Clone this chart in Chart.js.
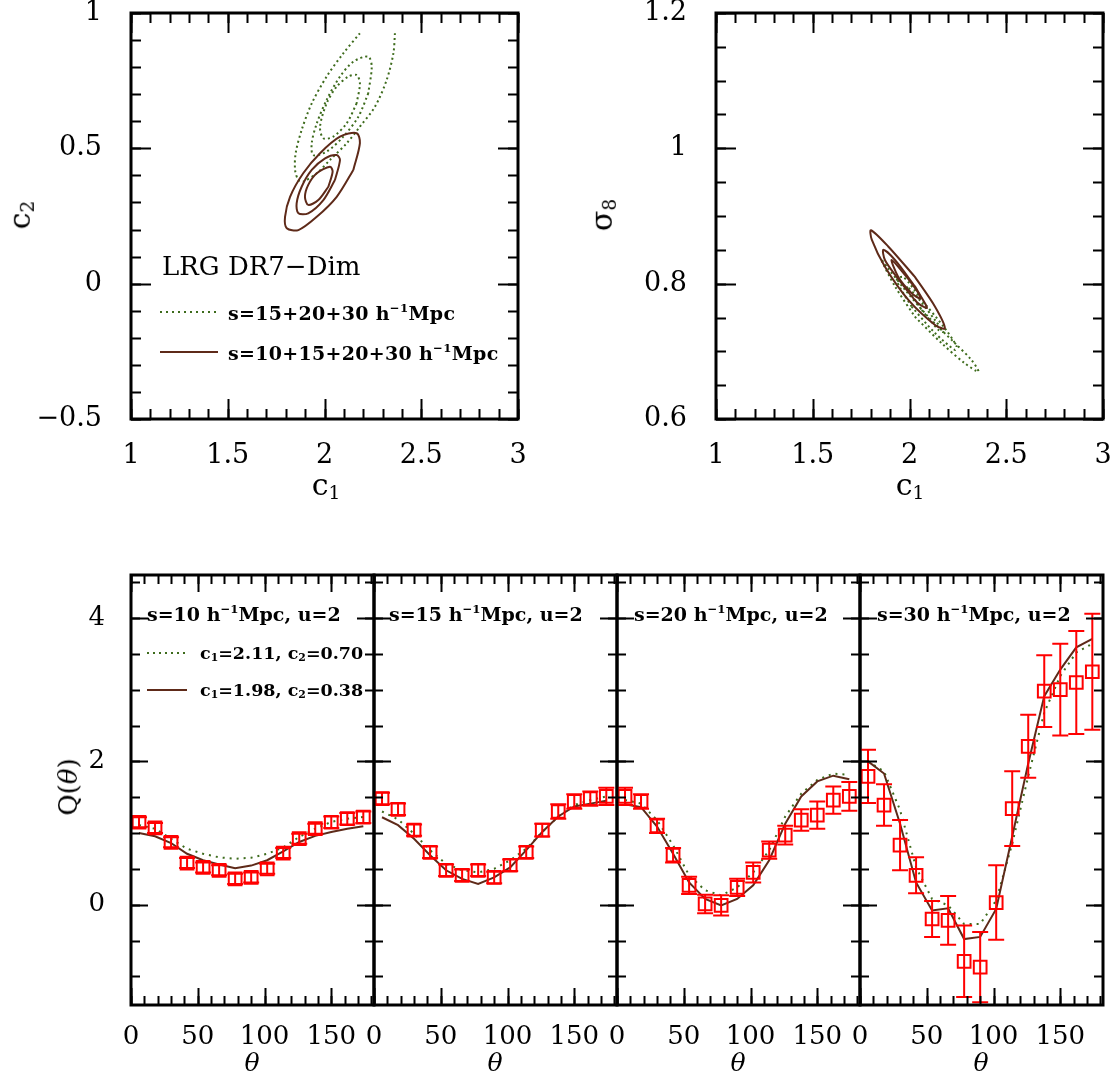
<!DOCTYPE html>
<html>
<head>
<meta charset="utf-8">
<script src="https://cdn.jsdelivr.net/npm/chart.js@4.4.1/dist/chart.umd.min.js"></script>
<style>
body { margin: 0; background: #fff; }
#page { position: relative; width: 1117px; height: 1078px; overflow: hidden; font-family: "DejaVu Serif", serif; color: #000; }
canvas { position: absolute; }
.lbl { position: absolute; white-space: nowrap; line-height: 1; transform: translateY(-50%); }
.ctr { transform: translate(-50%, -50%); }
.rot { transform: translate(-50%, -50%) rotate(-90deg); }
.lbl sub { font-size: 62%; vertical-align: -0.2em; }
.lbl sup { font-size: 62%; vertical-align: 0.6em; }
.b { font-weight: bold; }
.dots { position: absolute; height: 2px; background: repeating-linear-gradient(90deg, #3d6b1c 0 2px, transparent 2px 6px); }
.solid { position: absolute; height: 2px; background: #5e2a19; }
</style>
</head>
<body>
<div id="page">
  <canvas id="cc"></canvas>
  <canvas id="cs"></canvas>
  <canvas id="q10c"></canvas>
  <canvas id="q15c"></canvas>
  <canvas id="q20c"></canvas>
  <canvas id="q30c"></canvas>

  <div class="lbl rot" style="left:21px; top:215px; font-size:30px;">c<sub>2</sub></div>
  <div class="lbl ctr" style="left:326px; top:486px; font-size:30px;">c<sub>1</sub></div>
  <div class="lbl" style="left:162px; top:266px; font-size:26px;">LRG DR7&minus;Dim</div>
  <div class="dots" style="left:160px; top:311px; width:56px;"></div>
  <div class="lbl b" style="left:228px; top:313px; font-size:19px; letter-spacing:0.3px;">s=15+20+30 h<sup>&minus;1</sup>Mpc</div>
  <div class="solid" style="left:160px; top:351px; width:58px;"></div>
  <div class="lbl b" style="left:228px; top:353px; font-size:19px; letter-spacing:0.3px;">s=10+15+20+30 h<sup>&minus;1</sup>Mpc</div>

  <div class="lbl rot" style="left:603px; top:215px; font-size:30px;">&sigma;<sub>8</sub></div>
  <div class="lbl ctr" style="left:910px; top:486px; font-size:30px;">c<sub>1</sub></div>

  <div class="lbl rot" style="left:68px; top:787px; font-size:26px;">Q(<i>&theta;</i>)</div>
  <div class="lbl ctr" style="left:252px; top:1062px; font-size:25px;"><i>&theta;</i></div>
  <div class="lbl ctr" style="left:495px; top:1062px; font-size:25px;"><i>&theta;</i></div>
  <div class="lbl ctr" style="left:738px; top:1062px; font-size:25px;"><i>&theta;</i></div>
  <div class="lbl ctr" style="left:981px; top:1062px; font-size:25px;"><i>&theta;</i></div>

  <div class="lbl b" style="left:147px; top:614px; font-size:19px;">s=10 h<sup>&minus;1</sup>Mpc, u=2</div>
  <div class="lbl b" style="left:389px; top:614px; font-size:19px;">s=15 h<sup>&minus;1</sup>Mpc, u=2</div>
  <div class="lbl b" style="left:634px; top:614px; font-size:19px;">s=20 h<sup>&minus;1</sup>Mpc, u=2</div>
  <div class="lbl b" style="left:877px; top:614px; font-size:19px;">s=30 h<sup>&minus;1</sup>Mpc, u=2</div>

  <div class="dots" style="left:147px; top:652px; width:38px;"></div>
  <div class="lbl b" style="left:200px; top:654px; font-size:17.5px;">c<sub>1</sub>=2.11, c<sub>2</sub>=0.70</div>
  <div class="solid" style="left:147px; top:689px; width:40px;"></div>
  <div class="lbl b" style="left:200px; top:691px; font-size:17.5px;">c<sub>1</sub>=1.98, c<sub>2</sub>=0.38</div>
</div>

<script>
// colours
var green = '#3d6b1c';
var brown = '#5e2a19';
var red = '#ff0000';

// ---- contour panels: c1 vs c2, c1 vs sigma8 ----
// closed loops start on a long side so the join does not show
var c1Ticks = [1, 1.5, 2, 2.5, 3];
var c2Ticks = [-0.5, 0, 0.5, 1];
var s8Ticks = [0.6, 0.8, 1, 1.2];

var ccDotOuter = [[2.183,0.925],[2.097,0.851],[2.011,0.765],[1.934,0.666],[1.882,0.568],[1.851,0.482],[1.848,0.42],[1.865,0.383],[1.890,0.377],[1.960,0.408],[2.028,0.457],[2.115,0.519],[2.183,0.58],[2.261,0.654],[2.321,0.752],[2.356,0.851],[2.364,0.925]];
var ccDotMid = [[2.226,0.703],[2.175,0.617],[2.097,0.543],[2.011,0.488],[1.942,0.475],[1.934,0.519],[1.960,0.592],[2.011,0.679],[2.080,0.765],[2.149,0.820],[2.226,0.839],[2.244,0.802],[2.226,0.703]];
var ccDotIn = [[2.166,0.666],[2.115,0.593],[2.045,0.543],[1.994,0.537],[1.977,0.580],[2.011,0.666],[2.063,0.728],[2.123,0.765],[2.166,0.771],[2.183,0.740],[2.166,0.666]];
var ccSolOuter = [[2.149,0.42],[2.063,0.321],[1.960,0.247],[1.865,0.198],[1.805,0.205],[1.796,0.247],[1.822,0.321],[1.890,0.408],[1.977,0.482],[2.080,0.543],[2.166,0.556],[2.183,0.519],[2.149,0.42]];
var ccSolMid = [[2.054,0.383],[1.994,0.309],[1.916,0.260],[1.865,0.260],[1.856,0.297],[1.882,0.358],[1.934,0.420],[2.003,0.463],[2.063,0.475],[2.080,0.457],[2.054,0.383]];
var ccSolIn = [[2.020,0.358],[1.968,0.309],[1.916,0.291],[1.899,0.321],[1.916,0.365],[1.960,0.408],[2.028,0.432],[2.042,0.414],[2.020,0.358]];

var csSolOuter = [[2.028,0.810],[2.132,0.766],[2.183,0.734],[2.132,0.739],[1.994,0.776],[1.873,0.825],[1.805,0.865],[1.801,0.879],[1.890,0.855],[2.028,0.810]];
var csSolMid = [[2.028,0.796],[2.080,0.771],[2.089,0.764],[2.037,0.773],[1.934,0.810],[1.873,0.835],[1.865,0.850],[1.925,0.835],[2.028,0.796]];
var csSolIn = [[1.986,0.810],[2.046,0.786],[2.054,0.778],[2.011,0.786],[1.942,0.810],[1.908,0.835],[1.986,0.810]];
var csDotOuter = [[2.028,0.751],[2.166,0.712],[2.287,0.682],[2.356,0.670],[2.321,0.687],[2.235,0.712],[2.097,0.751],[1.977,0.791],[1.883,0.825],[1.853,0.836],[1.925,0.796],[2.028,0.751]];
var csDotMid = [[2.011,0.766],[2.132,0.727],[2.235,0.702],[2.244,0.707],[2.183,0.734],[2.063,0.776],[1.968,0.810],[1.934,0.805],[2.011,0.766]];
var csDotIn = [[2.063,0.761],[2.149,0.732],[2.175,0.729],[2.132,0.746],[2.046,0.778],[1.986,0.796],[2.063,0.761]];

// ---- Q(theta) panels ----
var theta = [6, 18, 30, 42, 54, 66, 78, 90, 102, 114, 126, 138, 150, 162, 174];
var thetaTicks = [0, 50, 100, 150];
var qTicks = [0, 2, 4];

var q10 = [1.15, 1.07, 0.87, 0.58, 0.52, 0.48, 0.36, 0.38, 0.50, 0.72, 0.92, 1.06, 1.15, 1.20, 1.22];
var q10Err = [0.07, 0.07, 0.07, 0.07, 0.07, 0.07, 0.07, 0.07, 0.07, 0.07, 0.07, 0.07, 0.08, 0.08, 0.08];
var q10Dot = [1.11, 1.06, 0.92, 0.78, 0.71, 0.66, 0.64, 0.655, 0.71, 0.80, 0.945, 1.06, 1.155, 1.20, 1.225];
var q10Sol = [1.00, 0.955, 0.86, 0.71, 0.62, 0.56, 0.51, 0.545, 0.62, 0.745, 0.875, 0.96, 1.015, 1.06, 1.095];

var q15 = [1.48, 1.33, 1.04, 0.73, 0.48, 0.41, 0.48, 0.38, 0.55, 0.73, 1.04, 1.30, 1.44, 1.48, 1.51];
var q15Err = [0.08, 0.08, 0.08, 0.08, 0.08, 0.08, 0.08, 0.08, 0.08, 0.08, 0.09, 0.10, 0.10, 0.10, 0.12];
var q15Dot = [1.30, 1.19, 0.99, 0.76, 0.57, 0.48, 0.45, 0.50, 0.62, 0.78, 1.015, 1.23, 1.39, 1.46, 1.51];
var q15Sol = [1.22, 1.11, 0.92, 0.69, 0.48, 0.36, 0.29, 0.38, 0.52, 0.76, 1.015, 1.23, 1.37, 1.41, 1.45];

var q20 = [1.51, 1.44, 1.10, 0.69, 0.27, 0.01, -0.01, 0.24, 0.45, 0.76, 0.97, 1.18, 1.25, 1.46, 1.51];
var q20Err = [0.12, 0.10, 0.10, 0.10, 0.12, 0.13, 0.14, 0.12, 0.14, 0.12, 0.13, 0.15, 0.19, 0.19, 0.20];
var q20Dot = [1.46, 1.41, 1.18, 0.83, 0.41, 0.20, 0.13, 0.24, 0.45, 0.76, 1.23, 1.55, 1.74, 1.83, 1.81];
var q20Sol = [1.40, 1.36, 1.09, 0.71, 0.31, 0.08, -0.01, 0.08, 0.27, 0.62, 1.13, 1.51, 1.72, 1.80, 1.75];

var q30 = [1.79, 1.39, 0.83, 0.41, -0.20, -0.22, -0.79, -0.87, 0.03, 1.34, 2.21, 2.98, 3.00, 3.10, 3.25];
var q30Err = [0.37, 0.29, 0.35, 0.25, 0.25, 0.34, 0.50, 0.49, 0.52, 0.52, 0.44, 0.50, 0.64, 0.72, 0.81];
var q30Dot = [2.00, 1.86, 1.32, 0.52, 0.08, -0.01, -0.27, -0.27, 0.06, 0.85, 1.79, 2.68, 3.19, 3.52, 3.64];
var q30Sol = [2.00, 1.83, 1.13, 0.31, -0.08, -0.05, -0.48, -0.45, -0.06, 0.95, 1.97, 2.91, 3.28, 3.59, 3.71];

function steps(from, to, step) {
    var out = [];
    for (var v = from; v <= to + 1e-9; v += step) {
        out.push(Math.round(v * 1000) / 1000);
    }
    return out;
}

function pts(list) {
    return list.map(function (p) { return { x: p[0], y: p[1] }; });
}

function pair(xs, ys) {
    return xs.map(function (x, i) { return { x: x, y: ys[i] }; });
}

// frame with inward ticks on all four sides
var framePlugin = {
    id: 'frame',
    afterDraw: function (chart, args, opts) {
        var ctx = chart.ctx, a = chart.chartArea;
        var xs = chart.scales.x, ys = chart.scales.y;
        ctx.save();
        ctx.strokeStyle = '#000';
        ctx.lineWidth = 2;
        function xt(list, len) {
            list.forEach(function (v) {
                var px = Math.round(xs.getPixelForValue(v)) + 0.5;
                ctx.beginPath();
                ctx.moveTo(px, a.bottom); ctx.lineTo(px, a.bottom - len);
                ctx.moveTo(px, a.top); ctx.lineTo(px, a.top + len);
                ctx.stroke();
            });
        }
        function yt(list, len) {
            list.forEach(function (v) {
                var py = Math.round(ys.getPixelForValue(v)) + 0.5;
                ctx.beginPath();
                ctx.moveTo(a.left, py); ctx.lineTo(a.left + len, py);
                ctx.moveTo(a.right, py); ctx.lineTo(a.right - len, py);
                ctx.stroke();
            });
        }
        xt(opts.xMinor, opts.minorLen);
        xt(opts.xMajor, opts.majorLen);
        yt(opts.yMinor, opts.minorLen);
        yt(opts.yMajor, opts.majorLen);
        ctx.lineWidth = 3;
        ctx.strokeRect(a.left, a.top, a.right - a.left, a.bottom - a.top);
        ctx.restore();
    }
};

var errorBarPlugin = {
    id: 'errorBars',
    afterDatasetsDraw: function (chart) {
        var ctx = chart.ctx, xs = chart.scales.x, ys = chart.scales.y;
        chart.data.datasets.forEach(function (ds) {
            if (!ds.errors) return;
            ctx.save();
            ctx.strokeStyle = ds.borderColor;
            ctx.lineWidth = 2;
            ds.data.forEach(function (p, i) {
                var px = xs.getPixelForValue(p.x);
                var top = ys.getPixelForValue(p.y + ds.errors[i]);
                var bot = ys.getPixelForValue(p.y - ds.errors[i]);
                ctx.beginPath();
                ctx.moveTo(px, top); ctx.lineTo(px, bot);
                ctx.moveTo(px - 8, top); ctx.lineTo(px + 8, top);
                ctx.moveTo(px - 8, bot); ctx.lineTo(px + 8, bot);
                ctx.stroke();
            });
            ctx.restore();
        });
    }
};

function contour(list, color, dotted) {
    return {
        data: pts(list),
        showLine: true,
        pointRadius: 0,
        borderColor: color,
        borderWidth: 2,
        borderDash: dotted ? [2, 3] : [],
        tension: 0.3
    };
}

function model(ys, color, dotted) {
    return {
        data: pair(theta, ys),
        showLine: true,
        pointRadius: 0,
        borderColor: color,
        borderWidth: 2,
        borderDash: dotted ? [2, 5] : [],
        tension: 0
    };
}

function measured(ys, errs) {
    return {
        data: pair(theta, ys),
        errors: errs,
        showLine: false,
        pointStyle: 'rect',
        pointRadius: 9,
        borderWidth: 2,
        borderColor: red,
        backgroundColor: 'rgba(0,0,0,0)'
    };
}

function minusSign(v) {
    return String(v).replace('-', '\u2212');
}

// box = plot area on the page, m = room around it for tick labels
function makeChart(id, box, m, ax, datasets) {
    var cv = document.getElementById(id);
    cv.width = box.w + m.left + m.right;
    cv.height = box.h + m.top + m.bottom;
    cv.style.left = (box.l - m.left) + 'px';
    cv.style.top = (box.t - m.top) + 'px';

    return new Chart(cv.getContext('2d'), {
        type: 'scatter',
        data: { datasets: datasets },
        plugins: [framePlugin, errorBarPlugin],
        options: {
            responsive: false,
            animation: false,
            layout: { padding: { top: m.top, right: m.right, left: 0, bottom: 0 } },
            plugins: {
                legend: { display: false },
                tooltip: { enabled: false },
                frame: ax.frame
            },
            scales: {
                x: {
                    type: 'linear',
                    min: ax.xMin, max: ax.xMax,
                    grid: { display: false },
                    border: { display: false },
                    afterBuildTicks: function (s) { s.ticks = ax.xTicks.map(function (v) { return { value: v }; }); },
                    afterFit: function (s) {
                        s.height = m.bottom;
                        s.paddingLeft = 0; s.paddingRight = 0;
                    },
                    ticks: {
                        autoSkip: false, maxRotation: 0, color: '#000',
                        padding: ax.xPad,
                        font: { family: 'DejaVu Serif', size: ax.fontSize },
                        callback: minusSign
                    }
                },
                y: {
                    type: 'linear',
                    min: ax.yMin, max: ax.yMax,
                    grid: { display: false },
                    border: { display: false },
                    afterBuildTicks: function (s) { s.ticks = ax.yTicks.map(function (v) { return { value: v }; }); },
                    afterFit: function (s) {
                        s.width = m.left;
                        s.paddingTop = 0; s.paddingBottom = 0;
                    },
                    ticks: {
                        display: ax.yLabels, autoSkip: false, color: '#000',
                        padding: ax.yPad,
                        font: { family: 'DejaVu Serif', size: ax.fontSize },
                        callback: minusSign
                    }
                }
            }
        }
    });
}

// top left: c1 - c2
makeChart('cc', { l: 131, t: 13, w: 387, h: 406 }, { left: 131, top: 13, right: 22, bottom: 80 }, {
    xMin: 1, xMax: 3, yMin: -0.5, yMax: 1,
    xTicks: c1Ticks, yTicks: c2Ticks, yLabels: true,
    xPad: 13, yPad: 21, fontSize: 27,
    frame: { xMajor: c1Ticks, xMinor: steps(1, 3, 0.1), yMajor: c2Ticks, yMinor: steps(-0.5, 1, 0.1), majorLen: 20, minorLen: 10 }
}, [
    contour(ccSolIn, brown, false),
    contour(ccSolMid, brown, false),
    contour(ccSolOuter, brown, false),
    contour(ccDotIn, green, true),
    contour(ccDotMid, green, true),
    contour(ccDotOuter, green, true)
]);

// top right: c1 - sigma8
makeChart('cs', { l: 716, t: 13, w: 387, h: 406 }, { left: 130, top: 13, right: 20, bottom: 80 }, {
    xMin: 1, xMax: 3, yMin: 0.6, yMax: 1.2,
    xTicks: c1Ticks, yTicks: s8Ticks, yLabels: true,
    xPad: 13, yPad: 21, fontSize: 27,
    frame: { xMajor: c1Ticks, xMinor: steps(1, 3, 0.1), yMajor: s8Ticks, yMinor: steps(0.6, 1.2, 0.05), majorLen: 20, minorLen: 10 }
}, [
    contour(csSolIn, brown, false),
    contour(csSolMid, brown, false),
    contour(csSolOuter, brown, false),
    contour(csDotIn, green, true),
    contour(csDotMid, green, true),
    contour(csDotOuter, green, true)
]);

// bottom row: Q(theta)
var qPanels = [
    { id: 'q10c', l: 131, q: q10, e: q10Err, dot: q10Dot, sol: q10Sol },
    { id: 'q15c', l: 374, q: q15, e: q15Err, dot: q15Dot, sol: q15Sol },
    { id: 'q20c', l: 617, q: q20, e: q20Err, dot: q20Dot, sol: q20Sol },
    { id: 'q30c', l: 860, q: q30, e: q30Err, dot: q30Dot, sol: q30Sol }
];

qPanels.forEach(function (p, i) {
    makeChart(p.id, { l: p.l, t: 575, w: 243, h: 430 }, { left: i === 0 ? 131 : 22, top: 20, right: 12, bottom: 50 }, {
        xMin: 0, xMax: 182, yMin: -1.4, yMax: 4.6,
        xTicks: thetaTicks, yTicks: qTicks, yLabels: i === 0,
        xPad: 9, yPad: 18, fontSize: 26,
        frame: { xMajor: thetaTicks, xMinor: steps(0, 180, 10), yMajor: qTicks, yMinor: steps(-1, 4.5, 0.5), majorLen: 17, minorLen: 9 }
    }, [
        measured(p.q, p.e),
        model(p.sol, brown, false),
        model(p.dot, green, true)
    ]);
});
</script>
</body>
</html>
